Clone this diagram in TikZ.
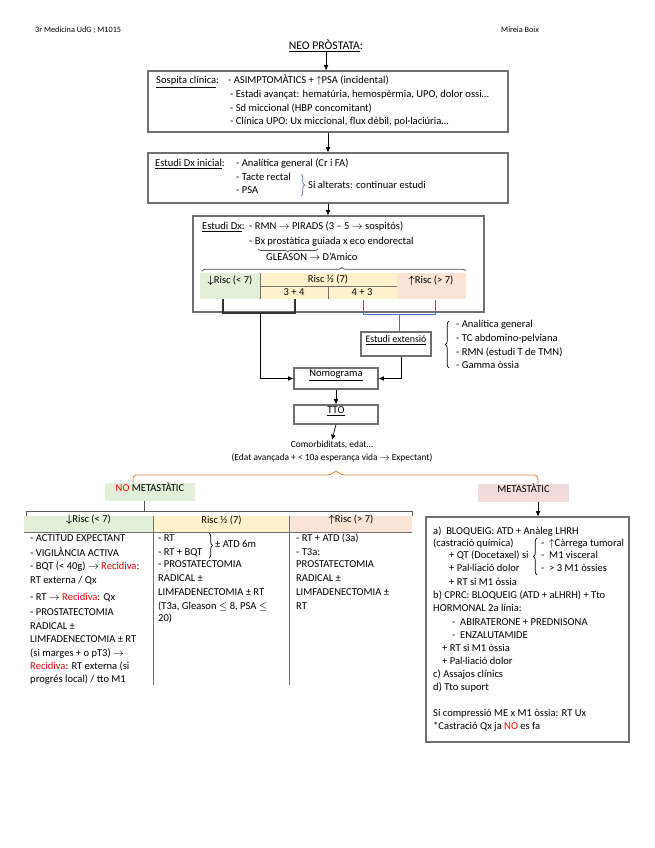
\documentclass[tikz,border=0pt]{standalone}
\usepackage{amsmath}
\usepackage{fontspec}
\setmainfont{Carlito}
\usetikzlibrary{arrows.meta,decorations.pathreplacing,fit}

\definecolor{verdclar}{HTML}{E2EFD9}
\definecolor{grocclar}{HTML}{FFF2CC}
\definecolor{salmo}{HTML}{FBE4D5}
\definecolor{rosa}{HTML}{F2DCDB}
\definecolor{blau}{HTML}{4472C4}
\definecolor{taronja}{HTML}{ED7D31}
\definecolor{vermell}{HTML}{FF0000}
\definecolor{vora}{HTML}{6F6F6F}

\tikzset{
  lletra/.style={font=\fontsize{9}{11}\selectfont},
  txt/.style={lletra, inner sep=0pt, anchor=west, text height=6.3pt, text depth=1.8pt},
  petit/.style={txt, font=\fontsize{7}{8}\selectfont},
  capsa/.style={lletra, draw=vora, line width=0.9pt, inner sep=0pt},
  cella/.style={lletra, inner sep=0pt},
  fletxa/.style={-{Latex[length=4.5pt,width=4pt]}, line width=0.6pt},
  clau/.style={decorate, decoration={brace, amplitude=3pt}, line width=0.6pt},
}

\begin{document}
\begin{tikzpicture}[x=0.03cm, y=-0.03cm]
\useasboundingbox (0,0) rectangle (655,848);

% capçalera
\node[petit] (capl) at (35,30) {3r Medicina UdG ; M1015};
\node[petit] (capr) at (501,30) {Mireia Boix};
\node[txt, anchor=center, font=\fontsize{10}{12}\selectfont] (titol) at (326,47) {\underline{NEO PRÒSTATA}:};

% sospita clinica
\node[capsa, fit={(148,71) (508,132)}] (sospita) {};
\node[txt] (sc) at (156,81) {\underline{Sospita clínica}:};
\node[txt] (s1) at (228,81) {- ASIMPTOMÀTICS + \smash{$\uparrow$}PSA (incidental)};
\node[txt] (s2) at (230,95) {- Estadi avançat: hematúria, hemospèrmia, UPO, dolor ossi…};
\node[txt] (s3) at (230,109) {- Sd miccional (HBP concomitant)};
\node[txt] (s4) at (230,122) {- Clínica UPO: Ux miccional, flux dèbil, pol·laciúria…};
\draw[fletxa] (titol.south) -- (titol.south |- sospita.north);

% estudi dx inicial
\node[capsa, fit={(148,153) (508,203)}] (dxini) {};
\node[txt] (di) at (155,164) {\underline{Estudi Dx inicial}:};
\node[txt] (d1) at (236,164) {- Analítica general (Cr i FA)};
\node[txt] (d2) at (236,178) {- Tacte rectal};
\node[txt] (d3) at (236,191) {- PSA};
\draw[clau, blau] (301,174) -- (301,196);
\node[txt] (d4) at (308,186) {Si alterats: continuar estudi};
\draw[fletxa] (sospita.south) -- (dxini.north);

% estudi dx
\node[capsa, fit={(193,216) (484,312)}] (dx) {};
\draw[fletxa] (dxini.south) -- (dxini.south |- dx.north);
\node[txt] (dxt) at (202,227) {\underline{Estudi Dx}:};
\node[txt] (x1) at (249,227) {- RMN $\rightarrow$ PIRADS (3 – 5 $\rightarrow$ sospitós)};
\node[txt] (x2) at (249,242) {- Bx prostàtica guiada x eco endorectal};
\draw[clau, black!70, decoration={brace, amplitude=2.5pt}] (318,249) -- (258,249);
\node[txt] (x3) at (266,258) {GLEASON $\rightarrow$ D’Amico};
\draw[clau, black!70, decoration={brace, amplitude=3pt, aspect=0.53}] (202,271) -- (466,271);

% taula de risc
\node[cella, fill=verdclar, fit={(200,273) (260,299)}] (tbaix) {};
\node[cella, fill=grocclar, fit={(260,273) (397,299)}] (tmig) {};
\node[cella, fill=salmo, fit={(397,273) (466,299)}] (talt) {};
\draw[vora, line width=0.5pt] (tbaix.north east) -- (tbaix.south east);
\draw[vora, line width=0.5pt] (260,286) -- (397,286) (328,286) -- (328,299);
\node[txt, anchor=center] (lb) at (230,281) {$\boldsymbol{\downarrow}$Risc (< 7)};
\node[txt, anchor=center] (lm) at (328,280) {Risc ½ (7)};
\node[txt, anchor=center] (l34) at (294,293) {3 + 4};
\node[txt, anchor=center] (l43) at (362,293) {4 + 3};
\node[txt, anchor=center] (la) at (431,281) {$\boldsymbol{\uparrow}$Risc (> 7)};

% claudators sota la taula
\draw[black!80, line width=1.3pt] (223,299) -- (223,313) -- (295,313) -- (295,299);
\coordinate (kbaix) at (260,313);
\draw[blau, line width=0.8pt] (363,300) -- (363,314) -- (435,314) -- (435,300);
\coordinate (kblau) at (399,314);

% estudi extensio
\node[capsa, fit={(361,332) (431,356)}, font=\fontsize{8.5}{10}\selectfont] (ext) {\underline{Estudi extensió}};
\draw[blau, line width=0.8pt] (kblau) -- (ext.north -| kblau);
\draw[clau] (449,368) -- (449,321);
\node[txt] (e1) at (456,325) {- Analítica general};
\node[txt] (e2) at (456,339) {- TC abdomino-pelviana};
\node[txt] (e3) at (456,353) {- RMN (estudi T de TMN)};
\node[txt] (e4) at (456,366) {- Gamma òssia};

% nomograma i tto
\node[capsa, fit={(294,368) (378,389)}] (nomo) {\underline{Nomograma}};
\coordinate (kext) at (401,0);
\draw[fletxa, line width=0.8pt] (kbaix) |- (nomo.west);
\draw[fletxa, line width=0.8pt] (ext.south -| kext) |- (nomo.east);
\node[capsa, fit={(294,405) (378,424)}] (tto) {\underline{TTO}};
\draw[fletxa] (nomo.south) -- (tto.north);
\node[txt, anchor=center, font=\fontsize{8}{9.5}\selectfont] (comorb) at (332,445) {Comorbiditats, edat…};
\node[txt, anchor=center, font=\fontsize{8}{9.5}\selectfont] (edat) at (332,458) {(Edat avançada + < 10a esperança vida $\rightarrow$ Expectant)};
\draw[fletxa] (tto.south) -- (comorb.north);

% metastatic / no metastatic
\node[cella, fill=verdclar, fit={(105,483) (195,501)}] (nometa) {\textcolor{vermell}{NO} METASTÀTIC};
\node[cella, fill=rosa, fit={(478,484) (569,502)}] (meta) {METASTÀTIC};
\coordinate (kno) at (133,0);
\coordinate (kmeta) at (538,0);
\draw[taronja, line width=0.7pt, rounded corners=3pt] (nometa.north -| kno) |- (331,475) -- (336,470) -- (341,475) -| (meta.north -| kmeta);

% taula no metastatic
\coordinate (ktick) at (144,511);
\draw[black!65, line width=0.8pt] (26,516) -- (26,511) -- (412,511) -- (412,516);
\draw[black!65, line width=0.8pt] (nometa.south -| ktick) -- (ktick);
\node[cella, fill=verdclar, fit={(24,516) (153,532)}] (hbaix) {$\boldsymbol{\downarrow}$Risc (< 7)};
\node[cella, fill=grocclar, fit={(154,516) (289,532)}] (hmig) {Risc ½ (7)};
\node[cella, fill=salmo, fit={(290,516) (412,532)}] (halt) {$\boldsymbol{\uparrow}$Risc (> 7)};
\draw[vora, line width=0.5pt] (24,532) -- (412,532);
\draw[vora, line width=0.5pt] (153.5,516) -- (153.5,685) (289.5,516) -- (289.5,685);

% risc baix
\node[txt] (b1) at (30,539) {- ACTITUD EXPECTANT};
\node[txt] (b2) at (30,554) {- VIGILÀNCIA ACTIVA};
\node[txt] (b3) at (30,567) {- BQT (< 40g) $\rightarrow$ \textcolor{vermell}{Recidiva}:};
\node[txt] (b4) at (30,581) {RT externa / Qx};
\node[txt] (b5) at (30,598) {- RT $\rightarrow$ \textcolor{vermell}{Recidiva}: Qx};
\node[txt] (b6) at (30,613) {- PROSTATECTOMIA};
\node[txt] (b7) at (30,627) {RADICAL ±};
\node[txt] (b8) at (30,640) {LIMFADENECTOMIA ± RT};
\node[txt] (b9) at (30,654) {(si marges + o pT3) $\rightarrow$};
\node[txt] (b10) at (30,667) {\textcolor{vermell}{Recidiva}: RT externa (si};
\node[txt] (b11) at (30,680) {progrés local) / tto M1};

% risc intermig
\node[txt] (m1) at (158,539) {- RT};
\node[txt] (m2) at (158,553) {- RT + BQT};
\draw[clau] (209,533) -- (209,558);
\node[txt] (m3) at (215,545) {± ATD 6m};
\node[txt] (m4) at (158,565) {- PROSTATECTOMIA};
\node[txt] (m5) at (158,579) {RADICAL ±};
\node[txt] (m6) at (158,593) {LIMFADENECTOMIA ± RT};
\node[txt] (m7) at (158,607) {(T3a, Gleason $\leq$ 8, PSA $\leq$};
\node[txt] (m8) at (158,619) {20)};

% risc alt
\node[txt] (a1) at (296,539) {- RT + ATD (3a)};
\node[txt] (a2) at (296,553) {- T3a:};
\node[txt] (a3) at (296,565) {PROSTATECTOMIA};
\node[txt] (a4) at (296,579) {RADICAL ±};
\node[txt] (a5) at (296,593) {LIMFADENECTOMIA ±};
\node[txt] (a6) at (296,607) {RT};

% tractament metastatic
\node[capsa, fit={(426,517) (629,742)}] (tract) {};
\draw[fletxa] (meta.south -| kmeta) -- (tract.north -| kmeta);
\node[txt] (t1) at (433,532) {a)\ \ BLOQUEIG: ATD + Anàleg LHRH};
\node[txt] (t2) at (433,544) {(castració química)};
\node[txt] (t3) at (449,556) {+ QT (Docetaxel) si};
\node[txt] (t4) at (449,569) {+ Pal·liació dolor};
\node[txt] (t5) at (449,583) {+ RT si M1 òssia};
\draw[clau] (537,575) -- (537,538);
\node[txt] (q1) at (541,544) {- \ \smash{$\uparrow$}Càrrega tumoral};
\node[txt] (q2) at (541,556) {- \ M1 visceral};
\node[txt] (q3) at (541,569) {- \ > 3 M1 òssies};
\node[txt] (t6) at (433,596) {b) CPRC: BLOQUEIG (ATD + aLHRH) + Tto};
\node[txt] (t7) at (433,609) {HORMONAL 2a línia:};
\node[txt] (t8) at (452,623) {- \ ABIRATERONE + PREDNISONA};
\node[txt] (t9) at (452,636) {- \ ENZALUTAMIDE};
\node[txt] (t10) at (442,649) {+ RT si M1 òssia};
\node[txt] (t11) at (442,662) {+ Pal·liació dolor};
\node[txt] (t12) at (433,675) {c) Assajos clínics};
\node[txt] (t13) at (433,688) {d) Tto suport};
\node[txt] (t14) at (433,714) {Si compressió ME x M1 òssia: RT Ux};
\node[txt] (t15) at (433,727) {*Castració Qx ja \textcolor{vermell}{NO} es fa};
\end{tikzpicture}
\end{document}
